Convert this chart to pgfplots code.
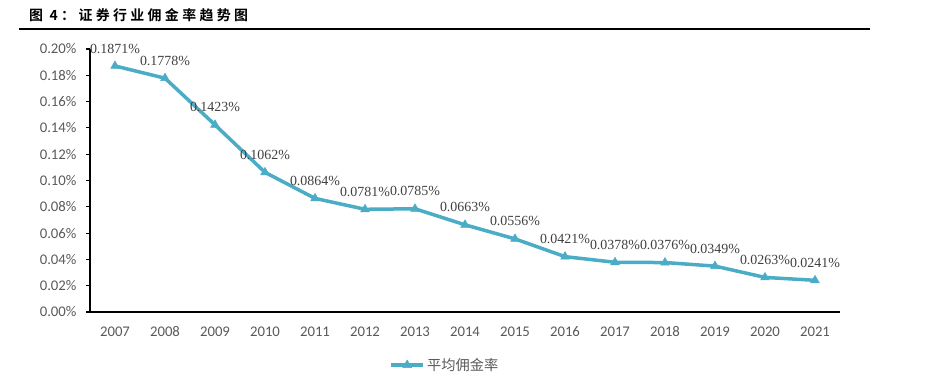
\documentclass[border=0pt]{standalone}
\usepackage{pgfplots}
\pgfplotsset{compat=1.18}
\usepackage{fontspec}
\setmainfont{Carlito}
\newfontfamily\lserif{Liberation Serif}
\newfontfamily\cjk{Noto Sans CJK SC}
\newfontfamily\cjktitle[LetterSpace=24]{Noto Sans CJK SC Bold}
\definecolor{linec}{HTML}{4BACC6}
\definecolor{tickc}{HTML}{595959}
\definecolor{labc}{HTML}{404040}
\begin{document}
\begin{tikzpicture}
\path[use as bounding box] (0,0) rectangle (926bp,-380bp);
\node[anchor=west,inner sep=0pt] at (29bp,-15bp) {\cjktitle\fontsize{14}{16}\selectfont 图 4：证券行业佣金率趋势图};
\draw[line width=2bp] (19bp,-29bp) -- (870bp,-29bp);
\begin{axis}[
  at={(90bp,-312bp)}, anchor=south west,
  scale only axis, width=750bp, height=263bp,
  xmin=-0.5, xmax=14.5, ymin=0, ymax=0.2,
  axis x line*=bottom, axis y line*=left,
  axis line style={black, line width=1.1bp},
  xtick={0,...,14},
  xticklabels={2007,2008,2009,2010,2011,2012,2013,2014,2015,2016,2017,2018,2019,2020,2021},
  extra x ticks={-0.5,0.5,1.5,2.5,3.5,4.5,5.5,6.5,7.5,8.5,9.5,10.5,11.5,12.5,13.5,14.5},
  extra x tick labels={},
  extra x tick style={major tick length=4bp, tick style={black, line width=1.1bp}, tick align=inside},
  x tick style={draw=none},
  ytick={0,0.02,0.04,0.06,0.08,0.10,0.12,0.14,0.16,0.18,0.20},
  yticklabels={0.00\%,0.02\%,0.04\%,0.06\%,0.08\%,0.10\%,0.12\%,0.14\%,0.16\%,0.18\%,0.20\%},
  y tick style={black, line width=1.1bp}, tick align=outside, major tick length=4bp,
  ticklabel style={font=\fontsize{14.8}{16}\selectfont, text=tickc},
  xticklabel style={yshift=-7bp},
  yticklabel style={xshift=-6bp},
  legend style={at={(0.473,-0.2015)}, anchor=center, draw=none, fill=none,
    font=\cjk\fontsize{14.3}{16}\selectfont, text=tickc, legend cell align=left},
  legend image code/.code={
    \draw[#1, mark repeat=2, mark phase=2] plot coordinates {(0cm,0cm) (0.57cm,0cm) (1.14cm,0cm)};
  },
  clip=false,
]
\addplot[color=linec, line width=3.5bp, mark=triangle*, mark size=5bp,
  mark options={solid, line width=0.5bp},
  point meta=explicit symbolic,
  nodes near coords,
  nodes near coords style={font=\lserif\fontsize{14}{15}\selectfont, text=labc, anchor=south, yshift=12.5bp, inner sep=0bp},
] table[meta=lab] {
x y lab
0 0.1871 0.1871\%
1 0.1778 0.1778\%
2 0.1423 0.1423\%
3 0.1062 0.1062\%
4 0.0864 0.0864\%
5 0.0781 0.0781\%
6 0.0785 0.0785\%
7 0.0663 0.0663\%
8 0.0556 0.0556\%
9 0.0421 0.0421\%
10 0.0378 0.0378\%
11 0.0376 0.0376\%
12 0.0349 0.0349\%
13 0.0263 0.0263\%
14 0.0241 0.0241\%
};
\addlegendentry{平均佣金率}
\end{axis}
\end{tikzpicture}
\end{document}
